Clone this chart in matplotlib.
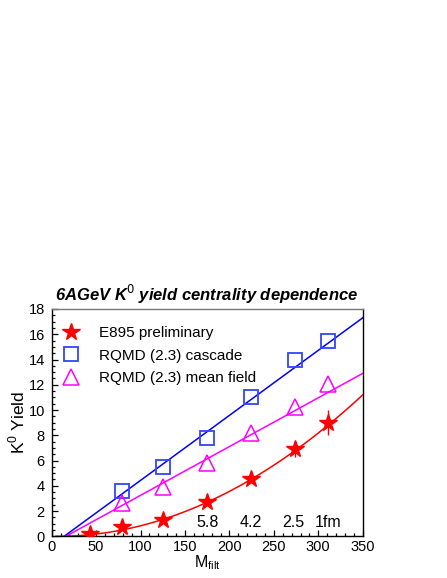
import numpy as np
import matplotlib
matplotlib.use("Agg")
import matplotlib.pyplot as plt
from matplotlib.ticker import MultipleLocator

plt.rcParams['font.family'] = ['Liberation Sans', 'DejaVu Sans']

# Data
e895_x = [43, 79, 125, 175, 224, 274, 311]
e895_y = [0.2, 0.75, 1.3, 2.7, 4.5, 6.9, 9.0]
e895_err = [0.05, 0.1, 0.15, 0.2, 0.3, 0.6, 1.0]

casc_x = [79, 125, 175, 224, 274, 311]
casc_y = [3.6, 5.5, 7.8, 11.0, 14.0, 15.5]

mf_x = [79, 125, 175, 224, 274, 311]
mf_y = [2.6, 3.9, 5.8, 8.2, 10.2, 12.1]

# Fit curves: y = a*(x-x0)^2 + b*(x-x0), clipped at 0
red_fit = dict(x0=12, a=9.47e-5, b=0.00112, xstart=5)
blue_fit = dict(x0=14, a=0.0, b=17.3 / 336, xstart=14)
mag_fit = dict(x0=16, a=0.0, b=12.9 / 334, xstart=16)

impact = ["5.8", "4.2", "2.5", "1fm"]
impact_x = [175, 224, 272, 311]

W, H = 447, 578
fig = plt.figure(figsize=(W / 100, H / 100), dpi=100)
ax = fig.add_axes([51.7 / W, 1 - 536.3 / H, (362.7 - 51.7) / W, (536.3 - 309.0) / H])

def curve(f, color):
    xs = np.linspace(f['xstart'], 350, 300)
    d = xs - f['x0']
    ys = np.clip(f['a'] * d ** 2 + f['b'] * d, 0, None)
    ax.plot(xs, ys, color=color, lw=1.1, zorder=2)

curve(blue_fit, '#0000ff')
curve(mag_fit, '#ff00ff')
curve(red_fit, '#ff0000')

ax.errorbar(e895_x, e895_y, yerr=e895_err, fmt='none', ecolor='#ff0000', elinewidth=1.0, zorder=3)
ax.plot(e895_x, e895_y, ls='none', marker='*', ms=13, color='#ff0000', mec='#ff0000', zorder=4,
        label='E895 preliminary')
ax.plot(casc_x, casc_y, ls='none', marker='s', ms=10.5, mfc='none', mec='#3344ff', mew=1.3, zorder=4,
        label='RQMD (2.3) cascade')
ax.plot(mf_x, mf_y, ls='none', marker='^', ms=11, mfc='none', mec='#ff00ff', mew=1.1, zorder=4,
        label='RQMD (2.3) mean field')

for t, xv in zip(impact, impact_x):
    ax.text(xv, 1.1, t, ha='center', va='center', fontsize=11.5)

ax.set_xlim(0, 350)
ax.set_ylim(0, 18)
ax.xaxis.set_major_locator(MultipleLocator(50))
ax.xaxis.set_minor_locator(MultipleLocator(10))
ax.yaxis.set_major_locator(MultipleLocator(2))
ax.yaxis.set_minor_locator(MultipleLocator(0.5))
ax.tick_params(which='both', direction='in', top=False, right=False, labelsize=10.5, width=0.9)
ax.tick_params(which='major', length=4.5, pad=5)
ax.tick_params(axis='x', which='major', pad=3)
ax.tick_params(which='minor', length=2.5)
for s in ax.spines.values():
    s.set_linewidth(1.0)
ax.spines['top'].set_color('#777777')

ax.set_xlabel('M$_{\\mathregular{filt}}$', fontsize=11.5, labelpad=-1)
ax.set_ylabel('K$^{\\mathregular{0}}$ Yield', fontsize=12.5, labelpad=1)
ax.set_title('6AGeV K$^{\\mathbf{\\mathit{0}}}$ yield centrality dependence', fontsize=12,
             fontweight='bold', fontstyle='italic', pad=6)

ax.legend(loc='upper left', bbox_to_anchor=(-0.006, 0.978), frameon=False, fontsize=11,
          numpoints=1, handlelength=1.2, handletextpad=1.25, borderaxespad=0.7, borderpad=0.1,
          labelspacing=0.55)

fig.savefig('out.png', dpi=100)
